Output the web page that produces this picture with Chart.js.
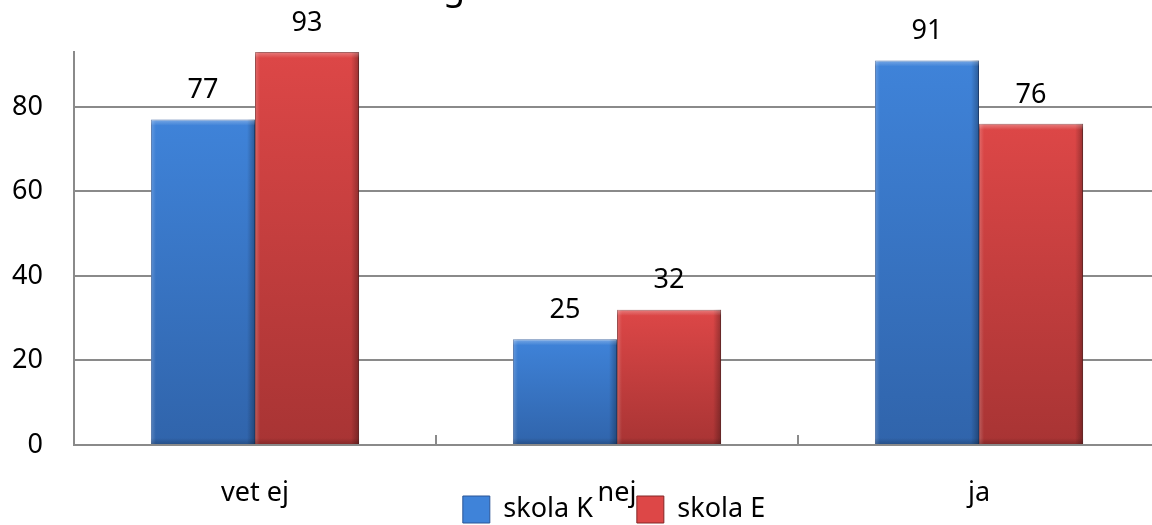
<!DOCTYPE html>
<html>
<head>
<meta charset="utf-8">
<script src="https://cdn.jsdelivr.net/npm/chart.js@4/dist/chart.umd.min.js"></script>
<style>
    html, body { margin: 0; padding: 0; overflow: hidden; background: #fff; }
    #chart { display: block; }
</style>
</head>
<body>
<canvas id="chart" width="1160" height="525"></canvas>
<script>
const categories = ['vet ej', 'nej', 'ja']
const skolaK = [77, 25, 91]
const skolaE = [93, 32, 76]
const seriesNames = ['skola K', 'skola E']
const yTicks = [0, 20, 40, 60, 80]
const yMax = 93

const FONT = "'Noto Sans', 'Open Sans', sans-serif"
const FSIZE = 27
const GRID = '#8a8a8a'

// top / bottom colours of the bar gradient
const palette = [
    { top: '#3f83d9', bottom: '#3064ab', edge: '#2a5596' },
    { top: '#dd4747', bottom: '#a83434', edge: '#832626' }
]

function barFill(i) {
    return (ctx) => {
        const chart = ctx.chart
        const y = chart.scales.y
        if (!chart.chartArea || !y || ctx.raw === undefined) return palette[i].top
        const top = y.getPixelForValue(ctx.raw)
        const bottom = y.getPixelForValue(0)
        const g = chart.ctx.createLinearGradient(0, top, 0, bottom)
        g.addColorStop(0, palette[i].top)
        g.addColorStop(1, palette[i].bottom)
        return g
    }
}

// bevel-ish shading on the bars + value labels
const barDecor = {
    id: 'barDecor',
    afterLayout(chart) {
        // legend sits under the axis labels, centred on the plot
        const lg = chart.legend
        lg.left = 68
        lg.top = 452
        lg.bottom = 525
    },
    afterDatasetsDraw(chart) {
        const c = chart.ctx
        chart.data.datasets.forEach((ds, di) => {
            chart.getDatasetMeta(di).data.forEach((bar, idx) => {
                const p = bar.getProps(['x', 'y', 'base', 'width'], true)
                const left = p.x - p.width / 2
                const right = p.x + p.width / 2
                c.save()
                let g = c.createLinearGradient(right - 8, 0, right, 0)
                g.addColorStop(0, 'rgba(0,0,0,0)')
                g.addColorStop(1, 'rgba(0,0,0,0.3)')
                c.fillStyle = g
                c.fillRect(right - 8, p.y, 8, p.base - p.y)
                g = c.createLinearGradient(left, 0, left + 5, 0)
                g.addColorStop(0, 'rgba(255,255,255,0.2)')
                g.addColorStop(1, 'rgba(255,255,255,0)')
                c.fillStyle = g
                c.fillRect(left, p.y, 5, p.base - p.y)
                g = c.createLinearGradient(0, p.y, 0, p.y + 6)
                g.addColorStop(0, 'rgba(255,255,255,0.3)')
                g.addColorStop(1, 'rgba(255,255,255,0)')
                c.fillStyle = g
                c.fillRect(left, p.y, p.width, 6)
                g = c.createLinearGradient(0, p.base - 6, 0, p.base)
                g.addColorStop(0, 'rgba(0,0,0,0)')
                g.addColorStop(1, 'rgba(0,0,0,0.2)')
                c.fillStyle = g
                c.fillRect(left, p.base - 6, p.width, 6)
                c.fillStyle = '#000'
                c.font = FSIZE + 'px ' + FONT
                c.textAlign = 'center'
                c.textBaseline = 'middle'
                c.fillText(ds.data[idx], p.x, p.y - 29)
                c.restore()
            })
        })
    },
    afterDraw(chart) {
        // cut-off title, only the descender shows
        const c = chart.ctx
        c.save()
        c.fillStyle = '#000'
        c.font = '36px ' + FONT
        c.textAlign = 'left'
        c.textBaseline = 'alphabetic'
        c.fillText('g', 443, -1)
        c.restore()
    }
}

new Chart(document.getElementById('chart'), {
    type: 'bar',
    data: {
        labels: categories,
        datasets: [
            { label: seriesNames[0], data: skolaK, backgroundColor: barFill(0), borderColor: palette[0].edge, borderWidth: 1 },
            { label: seriesNames[1], data: skolaE, backgroundColor: barFill(1), borderColor: palette[1].edge, borderWidth: 1 }
        ]
    },
    options: {
        responsive: false,
        animation: false,
        layout: { padding: { left: 0, right: 0, top: 52, bottom: 0 } },
        datasets: { bar: { barPercentage: 1, categoryPercentage: 0.575 } },
        plugins: {
            tooltip: { enabled: false },
            legend: {
                position: 'bottom',
                maxHeight: 10,
                labels: {
                    color: '#000',
                    font: { family: FONT, size: FSIZE },
                    boxWidth: 27,
                    boxHeight: 27,
                    padding: 44,
                    generateLabels(chart) {
                        return chart.data.datasets.map((ds, i) => ({
                            text: ds.label,
                            fillStyle: palette[i].top,
                            strokeStyle: palette[i].edge,
                            lineWidth: 1,
                            datasetIndex: i,
                            fontColor: '#000'
                        }))
                    }
                }
            }
        },
        scales: {
            x: {
                afterFit(scale) { scale.height = 70 },
                grid: { offset: true, drawOnChartArea: false, tickLength: -10, color: GRID, lineWidth: 2 },
                border: { color: GRID, width: 2 },
                ticks: { color: '#000', font: { family: FONT, size: FSIZE }, padding: 42 }
            },
            y: {
                min: 0,
                max: yMax,
                afterFit(scale) { scale.width = 74 },
                afterBuildTicks(scale) { scale.ticks = yTicks.map(v => ({ value: v })) },
                grid: { color: GRID, lineWidth: 2, drawTicks: false },
                border: { color: GRID, width: 2 },
                ticks: { color: '#000', font: { family: FONT, size: FSIZE }, padding: 31 }
            }
        }
    },
    plugins: [barDecor]
})
</script>
</body>
</html>
